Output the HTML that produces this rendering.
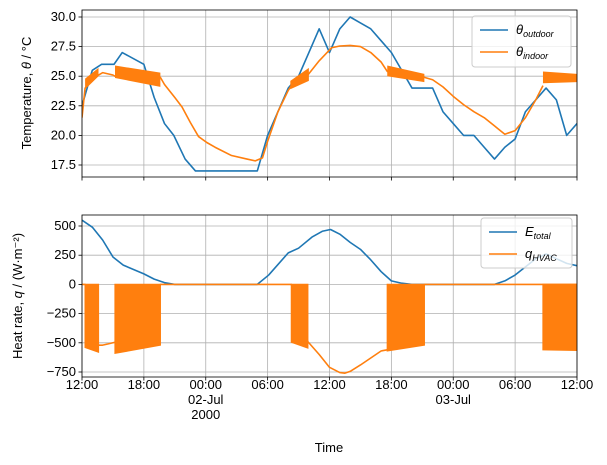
<!DOCTYPE html>
<html><head><meta charset="utf-8"><style>
body{margin:0;background:#fff;}
svg{display:block;font-family:"Liberation Sans","DejaVu Sans",sans-serif;}
</style></head><body>
<svg id="chart" width="607" height="465" viewBox="0 0 607 465"></svg>
<script>
// ---- data ----
const xTickLabels = ["12:00","18:00","00:00","06:00","12:00","18:00","00:00","06:00","12:00"];
const xTickSub = ["","","02-Jul\n2000","","","","03-Jul","",""];
const tempTicks = [17.5,20.0,22.5,25.0,27.5,30.0];
const qTicks = [500,250,0,-250,-500,-750];
const outdoorHours = [0,1,1.9,3.1,3.9,6,7,8,8.9,10,11,17,18,19,20,21,22,23,24,25,26,27,28,29,30,31,32,33,34,35,36,37,38,39,40,41,42,43,44,45,46,47,48];
const outdoorTemp = [22.5,25.5,26,26,27,26,23.2,21,20,18,17,17,20,22,24,25,27,29,27,29,30,29.5,29,28,27,25.5,24,24,24,22,21,20,20,19,18,19,19.7,22,23,24,23,20,21];
const indoorHours = [0,0.3,1.6,2,3,3.2,7.6,8,9,9.7,10.5,11.3,12.1,12.9,14.5,16,16.8,17.5,18,19,20,20.3,21.9,23,24.2,25,26,27,28,29,29.6,33.2,34,35,36,37,38,39,40,41,42,43,44,44.7];
const indoorTemp = [21.5,24,25.1,25.3,25.1,25.0,24.9,24.3,23.2,22.4,21.1,19.9,19.4,19.0,18.3,18.0,17.85,18.1,19.5,22.0,23.8,24.2,25.1,26.3,27.4,27.55,27.6,27.5,27.0,26.2,25.4,24.9,24.7,24.1,23.3,22.6,22,21.5,20.8,20.1,20.4,21.5,23,24.2];
// temperature oscillation bands
const tBandStart = [0.3,3.2,20.2,29.6,44.7];
const tBandEnd = [1.6,7.6,22.0,33.2,48];
const tBandUpStart = [24.8,25.9,24.6,25.9,25.4];
const tBandUpEnd = [25.7,25.3,25.7,25.2,25.2];
const tBandLoStart = [23.9,24.85,23.9,25.0,24.4];
const tBandLoEnd = [25.0,24.1,24.6,24.5,24.5];
const eHours = [0,1,2,3,4,6,7,8,9,17,18.1,20,21,22.3,23.3,24.1,25,26,27,28,29,30,31,32,40,41,42,43,44,45,46,47,48];
const eVals = [550,490,380,235,165,90,45,15,0,0,80,270,310,405,455,470,430,360,300,210,110,30,10,0,0,30,80,150,220,260,220,180,160];
const qHours = [0,0.3,1.6,2,2.5,3.2,7.6,20.3,21.9,23,24,25,25.5,26,27,28,29,29.6,33.2,44.7,48];
const qVals = [0,0,-520,-520,-510,-495,0,0,-490,-600,-710,-755,-760,-745,-690,-630,-570,-560,0,0,0];
const qBandStart = [0.3,3.2,20.3,29.6,44.7];
const qBandEnd = [1.6,7.6,21.9,33.2,48];
const qBandLoStart = [-540,-590,-495,-570,-560];
const qBandLoEnd = [-580,-520,-545,-520,-565];

// ---- axes ----
const X0=82,X1=577;
const x=h=>X0+(h/48)*(X1-X0);
const yT=t=>165-(t-17.5)*11.84;
const yQ=q=>284.4-q*0.1168;
const T={top:10,bot:177}, B={top:215,bot:377};
const svg=document.getElementById('chart');
const NS='http://www.w3.org/2000/svg';
function mk(tag,attrs,parent){const e=document.createElementNS(NS,tag);for(const k in attrs)e.setAttribute(k,attrs[k]);(parent||svg).appendChild(e);return e;}
const BLUE='#1f77b4',ORANGE='#ff7f0e';

function drawPanel(P,ticks,yf,fmt,name){
  const g=mk('g',{});
  
  
  for(let i=0;i<xTickLabels.length;i++){const xx=x(i*6);
    const gl=mk('line',{x1:xx,x2:xx,y1:P.top,y2:P.bot,stroke:'#b0b0b0','stroke-width':0.8},g);
    
    mk('line',{x1:xx,x2:xx,y1:P.bot,y2:P.bot+3.5,stroke:'#000','stroke-width':0.8},g);}
  ticks.forEach(t=>{const yy=yf(t);
    const gl=mk('line',{x1:X0,x2:X1,y1:yy,y2:yy,stroke:'#b0b0b0','stroke-width':0.8},g);
    
    mk('line',{x1:X0-3.5,x2:X0,y1:yy,y2:yy,stroke:'#000','stroke-width':0.8},g);
    const tx=mk('text',{x:X0-6,y:yy+4,'text-anchor':'end','font-size':13,fill:'#000'},g);
    tx.textContent=fmt(t);
    });
  return g;
}
drawPanel(T,tempTicks,yT,t=>t.toFixed(1),'temperature');
drawPanel(B,qTicks,yQ,t=>String(t).replace('-','\u2212'),'heat-rate');

function clip(id,P){const c=mk('clipPath',{id:id});mk('rect',{x:X0,y:P.top,width:X1-X0,height:P.bot-P.top},c);}
clip('ct',T);clip('cb',B);
function line(hs,vs,yf,col,cp,name){
  const d=hs.map((h,i)=>(i?'L':'M')+x(h).toFixed(2)+','+yf(vs[i]).toFixed(2)).join('');
  const p=mk('path',{d:d,fill:'none',stroke:col,'stroke-width':1.6,'stroke-linejoin':'round','clip-path':'url(#'+cp+')'});
  }

line(outdoorHours,outdoorTemp,yT,BLUE,'ct','outdoor-temperature-line');
line(indoorHours,indoorTemp,yT,ORANGE,'ct','indoor-temperature-line');
for(let i=0;i<tBandStart.length;i++){
  const pts=[[tBandStart[i],tBandUpStart[i]],[tBandEnd[i],tBandUpEnd[i]],[tBandEnd[i],tBandLoEnd[i]],[tBandStart[i],tBandLoStart[i]]];
  const p=mk('polygon',{points:pts.map(q=>x(q[0])+','+yT(q[1])).join(' '),fill:ORANGE,'clip-path':'url(#ct)'});
  }
line(eHours,eVals,yQ,BLUE,'cb','e-total-line');
line(qHours,qVals,yQ,ORANGE,'cb','q-hvac-line');
for(let i=0;i<qBandStart.length;i++){
  const pts=[[qBandStart[i],0],[qBandEnd[i],0],[qBandEnd[i],qBandLoEnd[i]],[qBandStart[i],qBandLoStart[i]]];
  const p=mk('polygon',{points:pts.map(q=>x(q[0])+','+yQ(q[1])).join(' '),fill:ORANGE,stroke:ORANGE,'stroke-width':1.2,'clip-path':'url(#cb)'});
  }

[T,B].forEach((P,i)=>{const r=mk('rect',{x:X0,y:P.top,width:X1-X0,height:P.bot-P.top,fill:'none',stroke:'#000','stroke-width':0.8});
  });

for(let i=0;i<xTickLabels.length;i++){const xx=x(i*6);
  const lines=[xTickLabels[i]].concat(xTickSub[i]?xTickSub[i].split('\n'):[]);
  lines.forEach((s,j)=>{const t=mk('text',{x:xx,y:389+j*15,'text-anchor':'middle','font-size':13,fill:'#000'});t.textContent=s;
    });}
</script>
<script>
(function(){
const svg=document.getElementById('chart');const NS='http://www.w3.org/2000/svg';
function txt(s,attrs,name){const t=document.createElementNS(NS,'text');for(const k in attrs)t.setAttribute(k,attrs[k]);t.innerHTML=s;svg.appendChild(t);
  return t;}
txt('Time',{x:329,y:452,'text-anchor':'middle','font-size':13},'x-axis-title');
txt('Temperature, <tspan font-style="italic">θ</tspan> / °C',{x:0,y:0,'text-anchor':'middle','font-size':13,transform:'translate(31,93) rotate(-90)'},'temperature-axis-title');
txt('Heat rate, <tspan font-style="italic">q</tspan> / (W·m⁻²)',{x:0,y:0,'text-anchor':'middle','font-size':13,transform:'translate(22,296) rotate(-90)'},'heat-rate-axis-title');
function legend(x0,y0,w,h,items,name){
  const g=document.createElementNS(NS,'g');svg.appendChild(g);
  
  const r=document.createElementNS(NS,'rect');
  [['x',x0],['y',y0],['width',w],['height',h],['rx',3],['fill','#fff'],['fill-opacity',0.8],['stroke','#ccc'],['stroke-width',1]].forEach(a=>r.setAttribute(a[0],a[1]));g.appendChild(r);
  items.forEach((it,i)=>{const yy=y0+14+i*22;
    const l=document.createElementNS(NS,'line');[['x1',x0+8],['x2',x0+36],['y1',yy],['y2',yy],['stroke',it[0]],['stroke-width',1.6]].forEach(a=>l.setAttribute(a[0],a[1]));g.appendChild(l);
    const t=document.createElementNS(NS,'text');t.setAttribute('x',x0+44);t.setAttribute('y',yy+4);t.setAttribute('font-size',13);t.innerHTML=it[1];g.appendChild(t);
    });
}
legend(472,16,99,51,[['#1f77b4','<tspan font-style="italic">θ</tspan><tspan font-style="italic" font-size="9" dy="3">outdoor</tspan>'],['#ff7f0e','<tspan font-style="italic">θ</tspan><tspan font-style="italic" font-size="9" dy="3">indoor</tspan>']],'temperature-legend');
legend(481,218,91,50,[['#1f77b4','<tspan font-style="italic">E</tspan><tspan font-style="italic" font-size="9" dy="3">total</tspan>'],['#ff7f0e','<tspan font-style="italic">q</tspan><tspan font-style="italic" font-size="9" dy="3">HVAC</tspan>']],'heat-rate-legend');
})();
</script>
</body></html>
